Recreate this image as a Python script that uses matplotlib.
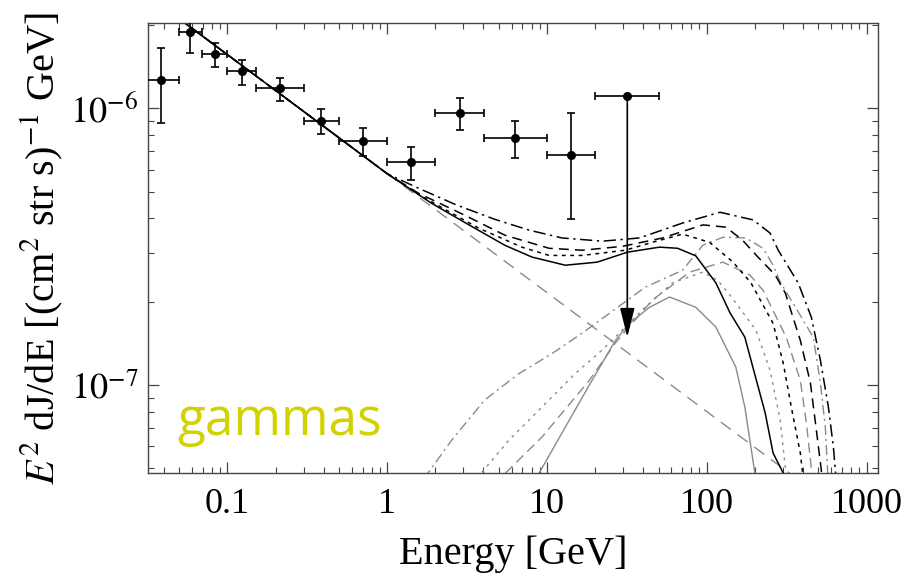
import numpy as np
import matplotlib
matplotlib.use("Agg")
import matplotlib.pyplot as plt
from matplotlib.ticker import LogLocator, NullFormatter, FixedLocator, FixedFormatter

# measured flux points (GeV, GeV cm^-2 s^-1 sr^-1)
E_pts  = [0.0385, 0.0585, 0.084, 0.1225, 0.212, 0.385, 0.707, 1.415, 2.84, 6.29, 14.2]
E_lo   = [0.0296, 0.0499, 0.0697, 0.100, 0.150, 0.301, 0.499, 1.00, 1.98, 4.02, 10.0]
E_hi   = [0.0499, 0.0697, 0.100, 0.150, 0.301, 0.499, 1.00, 2.00, 4.02, 10.0, 20.0]
F_pts  = [1.27e-6, 1.88e-6, 1.57e-6, 1.36e-6, 1.18e-6, 8.98e-7, 7.6e-7, 6.38e-7, 9.6e-7, 7.8e-7, 6.76e-7]
F_lo   = [8.83e-7, 1.59e-6, 1.41e-6, 1.21e-6, 1.06e-6, 8.05e-7, 6.71e-7, 5.5e-7, 8.33e-7, 6.6e-7, 3.97e-7]
F_hi   = [1.65e-6, 2.22e-6, 1.72e-6, 1.49e-6, 1.29e-6, 9.9e-7, 8.47e-7, 7.23e-7, 1.09e-6, 8.98e-7, 9.6e-7]

# upper limit bin
ul_E, ul_lo, ul_hi = 31.8, 20.0, 50.0
ul_F, ul_tip = 1.11e-6, 1.49e-7

# background power law (gray long dashes)
bg_E = [0.03, 1000.0]
bg_F = [2.62e-6, 2.98e-8]

# total spectra (black)
tot1_E = [0.03, 1.0, 1.89, 3.05, 5.44, 8.05, 13.0, 20.6, 31.8, 50.6, 65.7, 85.3, 114, 140, 173, 200, 232, 260, 301, 310]
tot1_F = [2.62e-6, 5.8e-7, 4.54e-7, 3.87e-7, 3.20e-7, 2.90e-7, 2.71e-7, 2.78e-7, 3.02e-7, 3.15e-7, 3.12e-7, 2.93e-7,
          2.34e-7, 1.82e-7, 1.49e-7, 1.09e-7, 7.93e-8, 5.68e-8, 4.81e-8, 4.3e-8]

tot2_E = [0.03, 1.0, 1.64, 3.73, 6.96, 10.3, 16.6, 30.9, 45.7, 70.6, 104, 146, 189, 260, 301, 338, 385, 396, 405]
tot2_F = [2.62e-6, 5.8e-7, 4.81e-7, 3.69e-7, 3.15e-7, 2.94e-7, 2.94e-7, 3.07e-7, 3.28e-7, 3.51e-7, 3.28e-7, 2.78e-7,
          2.34e-7, 1.67e-7, 1.20e-7, 8.33e-8, 5.68e-8, 4.93e-8, 4.3e-8]

tot3_E = [0.03, 1.0, 1.57, 3.05, 5.44, 10.3, 16.6, 29.6, 52.9, 94.4, 132, 168, 209, 268, 310, 385, 445, 485, 521, 530]
tot3_F = [2.62e-6, 5.8e-7, 4.93e-7, 4.11e-7, 3.48e-7, 3.12e-7, 3.07e-7, 3.17e-7, 3.40e-7, 3.79e-7, 3.72e-7, 3.33e-7,
          2.90e-7, 2.50e-7, 2.15e-7, 1.45e-7, 1.02e-7, 6.88e-8, 4.93e-8, 4.3e-8]

tot4_E = [0.03, 1.0, 1.57, 2.72, 4.71, 7.7, 12.4, 22.2, 37.9, 70.6, 121, 195, 249, 280, 373, 451, 514, 577, 620, 638, 650]
tot4_F = [2.62e-6, 5.8e-7, 5.14e-7, 4.47e-7, 3.97e-7, 3.63e-7, 3.40e-7, 3.31e-7, 3.40e-7, 3.85e-7, 4.21e-7, 3.95e-7,
          3.54e-7, 3.07e-7, 2.34e-7, 1.76e-7, 1.23e-7, 8.33e-8, 5.97e-8, 4.93e-8, 4.3e-8]

# dark matter signal spectra (gray)
sig1_E = [8.0, 12.4, 18.4, 26.8, 32.8, 43.8, 58.5, 85.3, 114, 152, 173, 200, 205]
sig1_F = [4.3e-8, 6.71e-8, 1.0e-7, 1.45e-7, 1.67e-7, 1.91e-7, 2.08e-7, 1.91e-7, 1.62e-7, 1.16e-7, 8.33e-8, 4.81e-8, 4.0e-8]

sig2_E = [3.4, 5.77, 9.30, 15.0, 22.2, 39.6, 61.1, 94.4, 117, 140, 203, 249, 288, 310, 318]
sig2_F = [4.4e-8, 6.32e-8, 8.33e-8, 1.10e-7, 1.34e-7, 1.87e-7, 2.34e-7, 2.56e-7, 2.39e-7, 2.11e-7, 1.58e-7, 1.13e-7,
          7.48e-8, 5.05e-8, 4.3e-8]

sig3_E = [4.7, 9.30, 18.4, 26.8, 45.7, 78.2, 126, 186, 225, 314, 385, 420, 451, 460]
sig3_F = [4.4e-8, 6.49e-8, 1.04e-7, 1.42e-7, 2.03e-7, 2.56e-7, 2.78e-7, 2.50e-7, 2.20e-7, 1.49e-7, 1.04e-7, 7.30e-8,
          5.01e-8, 4.3e-8]

sig4_E = [1.7, 2.53, 4.07, 6.67, 10.75, 16.6, 41.3, 70.6, 94.4, 126, 176, 225, 260, 288, 464, 514, 552, 569, 580]
sig4_F = [4.6e-8, 6.32e-8, 8.83e-8, 1.10e-7, 1.30e-7, 1.54e-7, 2.26e-7, 2.60e-7, 3.20e-7, 3.42e-7, 3.40e-7, 3.12e-7,
          2.71e-7, 2.36e-7, 1.49e-7, 1.02e-7, 7.05e-8, 5.01e-8, 4.3e-8]

plt.rcParams['font.family'] = 'serif'
plt.rcParams['font.serif'] = ['Liberation Serif', 'DejaVu Serif']
plt.rcParams['mathtext.fontset'] = 'stix'

fig = plt.figure(figsize=(9.08, 5.79), dpi=100)
ax = fig.add_axes([0.163, 0.183, 0.804, 0.777])
ax.set_xscale('log')
ax.set_yscale('log')

gray = '#8a8a8a'
ax.plot(bg_E, bg_F, color=gray, lw=1.0, dashes=(9, 6))

ax.plot(sig1_E, sig1_F, color=gray, lw=1.0)
ax.plot(sig2_E, sig2_F, color=gray, lw=1.0, dashes=(2, 3.5))
ax.plot(sig3_E, sig3_F, color=gray, lw=1.0, dashes=(7, 4))
ax.plot(sig4_E, sig4_F, color=gray, lw=1.0, dashes=(7, 3, 1.5, 3))

ax.plot(tot1_E, tot1_F, color='black', lw=1.1)
ax.plot(tot2_E, tot2_F, color='black', lw=1.1, dashes=(2.5, 3))
ax.plot(tot3_E, tot3_F, color='black', lw=1.1, dashes=(6.5, 4))
ax.plot(tot4_E, tot4_F, color='black', lw=1.1, dashes=(8, 3, 1.5, 3))

E_pts = np.array(E_pts)
F_pts = np.array(F_pts)
xerr = [E_pts - np.array(E_lo), np.array(E_hi) - E_pts]
yerr = [F_pts - np.array(F_lo), np.array(F_hi) - F_pts]
ax.errorbar(E_pts, F_pts, xerr=xerr, yerr=yerr, fmt='o', color='black', ms=5.5,
            elinewidth=1.2, capsize=3, capthick=1.2, zorder=5)

ax.errorbar([ul_E], [ul_F], xerr=[[ul_E - ul_lo], [ul_hi - ul_E]], fmt='o', color='black', ms=5.5,
            elinewidth=1.2, capsize=3, capthick=1.2, zorder=5)
ax.annotate('', xy=(ul_E, ul_tip), xytext=(ul_E, ul_F),
            arrowprops=dict(arrowstyle='-|>,head_length=1.0,head_width=0.25', mutation_scale=18,
                            color='black', lw=1.2, shrinkA=0, shrinkB=0), zorder=5)

ax.set_xlim(0.0318, 1180)
ax.set_ylim(4.81e-8, 2.03e-6)

ax.xaxis.set_major_locator(FixedLocator([0.1, 1, 10, 100, 1000]))
ax.xaxis.set_major_formatter(FixedFormatter(['0.1', '1', '10', '100', '1000']))
ax.xaxis.set_minor_locator(LogLocator(base=10, subs=np.arange(2, 10), numticks=20))
ax.xaxis.set_minor_formatter(NullFormatter())
ax.yaxis.set_major_locator(FixedLocator([1e-7, 1e-6]))
ax.yaxis.set_major_formatter(FixedFormatter([r'$10^{-7}$', r'$10^{-6}$']))
ax.yaxis.set_minor_locator(LogLocator(base=10, subs=np.arange(2, 10), numticks=20))
ax.yaxis.set_minor_formatter(NullFormatter())

ax.tick_params(which='both', direction='in', top=True, right=True, colors='#444444', labelcolor='black')
ax.tick_params(which='major', length=8, width=0.9, labelsize=26)
ax.tick_params(axis='x', which='major', pad=11)
ax.tick_params(axis='y', which='major', pad=7)
ax.tick_params(which='minor', length=4, width=0.8)
for s in ax.spines.values():
    s.set_color('#444444')
    s.set_linewidth(1.0)

ax.set_xlabel('Energy [GeV]', fontsize=29, labelpad=10)
ax.set_ylabel(r'$E^2$ dJ/dE [(cm$^2$ str s)$^{-1}$ GeV]', fontsize=29, labelpad=4)

ax.text(0.040, 0.084, 'gammas', transform=ax.transAxes, fontsize=37, color='#d2d200',
        family='Open Sans', ha='left', va='baseline')

fig.savefig('out.png', dpi=100)
